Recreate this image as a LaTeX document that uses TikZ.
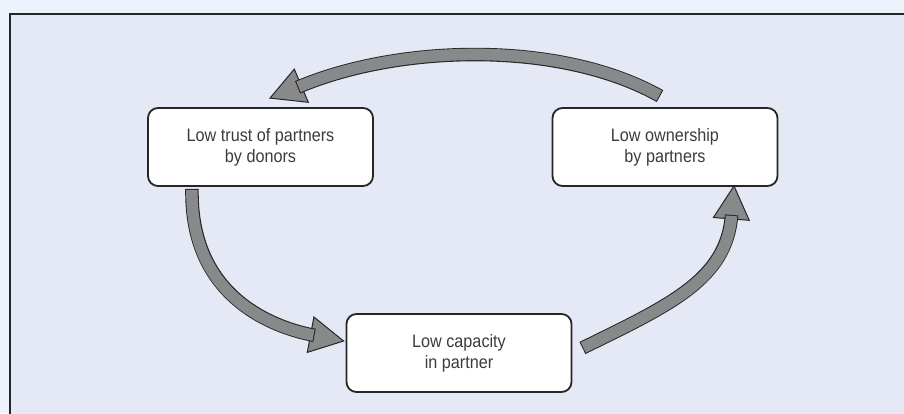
\documentclass[tikz,border=0pt]{standalone}
\usepackage{fontspec}
\setmainfont[FakeStretch=0.9]{Liberation Sans}
\usetikzlibrary{calc}
\definecolor{outerbg}{HTML}{EDF3FD}
\definecolor{innerbg}{HTML}{E5E9F6}
\definecolor{arrowgray}{HTML}{88898B}
\definecolor{darkline}{HTML}{262626}
\tikzset{
  cyclebox/.style={draw=darkline, fill=white, line width=1.8pt, rounded corners=10pt,
    minimum width=225pt, minimum height=78pt, align=center, inner sep=0pt,
    font=\fontsize{18pt}{21pt}\selectfont, text=darkline!90},
  shaftout/.style={draw=darkline, line width=13.5pt},
  shaftin/.style={draw=arrowgray, line width=11.5pt, shorten <=1pt, shorten >=1pt},
  headtri/.style={fill=arrowgray, draw=darkline, line width=1pt, line join=miter},
}
\begin{document}
\begin{tikzpicture}[x=1pt, y=-1pt]
\useasboundingbox (0,0) rectangle (904,413);
\fill[outerbg] (0,0) rectangle (904,413);
\filldraw[fill=innerbg, draw=darkline, line width=2pt] (9.7,13.8) rectangle (920,430);

\node[cyclebox] (b1) at (260.5,147) {Low trust of partners\\by donors};
\node[cyclebox] (b2) at (665,147) {Low ownership\\by partners};
\node[cyclebox] (b3) at (459,353) {Low capacity\\in partner};

% top arrow: b2 -> b1
\coordinate (t1) at ($(b2.north)+(-5,-11)$);
\coordinate (e1) at (297.6,87.3);
\coordinate (h1) at ($(b1.north)+(9.5,-9)$);
\draw[headtri] (308.3,102.3) -- (h1) -- (294.3,69.1) -- cycle;
\draw[shaftout] (t1) .. controls (560,40) and (398.9,44.3) .. (e1);
\draw[shaftin] (t1) .. controls (560,40) and (398.9,44.3) .. (e1);

% left arrow: b1 -> b3
\coordinate (t2) at ($(b1.south)+(-68.5,2)$);
\coordinate (e2) at (314.5,335.4);
\coordinate (h2) at ($(b3.west)+(-2,-12)$);
\draw[headtri] (307.3,352.4) -- (h2) -- (313.9,317) -- cycle;
\draw[shaftout] (t2) .. controls (190,295) and (270.3,327.1) .. (e2);
\draw[shaftin] (t2) .. controls (190,295) and (270.3,327.1) .. (e2);

% right arrow: b3 -> b2
\coordinate (t3) at ($(b3.east)+(10,-5)$);
\coordinate (e3) at (731.6,214.9);
\coordinate (h3) at ($(b2.south)+(69,-1)$);
\draw[headtri] (749.2,220.3) -- (h3) -- (713.4,217.5) -- cycle;
\draw[shaftout] (t3) .. controls (670,305) and (726.5,279.7) .. (e3);
\draw[shaftin] (t3) .. controls (670,305) and (726.5,279.7) .. (e3);
\end{tikzpicture}
\end{document}
